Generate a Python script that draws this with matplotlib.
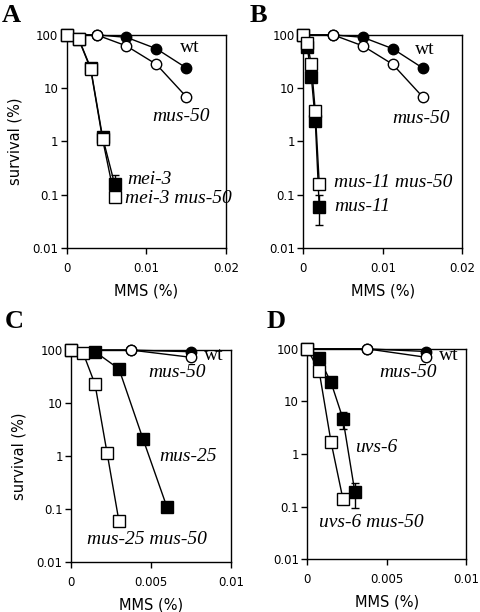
import numpy as np
import matplotlib
matplotlib.use('Agg')
import matplotlib.pyplot as plt

# DATOS ---------------------------------------------
# circulos: wt y mus-50
dosis_wt_ab = [0, 0.00375, 0.0075, 0.01125, 0.015]
wt_ab = [100, 100, 90, 55, 24]
mus50_ab = [100, 100, 62, 28, 6.9]
mus50_ab_err = [0, 0, 0, 0, 0.8]

dosis_wt_cd = [0, 0.00375, 0.0075]
wt_c = [100, 100, 93]
mus50_c = [100, 100, 73]
wt_d = [100, 100, 89]
mus50_d = [100, 100, 69]

# Panel A
dosis_a = [0, 0.0015, 0.003, 0.0045, 0.006]
mei3 = [100, 85, 24, 1.2, 0.16]
mei3_err_lo = [0, 0, 0, 0, 0.04]
mei3_err_hi = [0, 0, 0, 0, 0.07]
mei3_mus50 = [100, 83, 23, 1.1, 0.09]
mei3_mus50_err_lo = [0, 0, 0, 0.1, 0.015]
mei3_mus50_err_hi = [0, 0, 0, 0.1, 0.02]

# Panel B
dosis_b = [0, 0.0005, 0.001, 0.0015, 0.002]
mus11 = [100, 58, 16.5, 2.45, 0.058]
mus11_err_lo = [0, 0, 0, 0, 0.031]
mus11_err_hi = [0, 0, 0, 0, 0.042]
mus11_mus50 = [100, 70, 28, 3.7, 0.16]

# Panel C
dosis_c_mus25 = [0, 0.0015, 0.003, 0.0045, 0.006]
mus25 = [100, 93, 44, 2.1, 0.108]
dosis_c_doble = [0, 0.00075, 0.0015, 0.00225, 0.003]
mus25_mus50 = [100, 89, 22.6, 1.16, 0.058]

# Panel D
dosis_d_uvs6 = [0, 0.00075, 0.0015, 0.00225, 0.003]
uvs6 = [100, 66, 23, 4.7, 0.19]
uvs6_err_lo = [0, 0, 0, 1.7, 0.095]
uvs6_err_hi = [0, 0, 0, 1.6, 0.09]
dosis_d_doble = [0, 0.00075, 0.0015, 0.00225]
uvs6_mus50 = [100, 38, 1.7, 0.14]

yticks = [0.01, 0.1, 1, 10, 100]
ytick_labels = ['0.01', '0.1', '1', '10', '100']

# GRAFICA -------------------------------------------
figura = plt.figure(figsize=(4.8, 6.12), dpi=100)

posiciones = {'A': [0.139, 0.595, 0.332, 0.348],
              'B': [0.632, 0.595, 0.331, 0.348],
              'C': [0.148, 0.082, 0.333, 0.346],
              'D': [0.640, 0.086, 0.331, 0.344]}

def serie(ax, x, y, relleno, forma, ms, err=None, z=3):
    ax.plot(x, y, color='black', linewidth=1, zorder=z, clip_on=False)
    if err is not None:
        ax.errorbar(x, y, yerr=err, fmt='none', ecolor='black',
                    elinewidth=1, capsize=3, zorder=z, clip_on=False)
    ax.plot(x, y, linestyle='none', marker=forma, markersize=ms,
            markerfacecolor=relleno, markeredgecolor='black',
            markeredgewidth=1, zorder=z + 0.5, clip_on=False)

def ejes(ax, xmax, xticks, xlabels, ylabel):
    ax.set_yscale('log')
    ax.set_ylim(0.01, 100)
    ax.set_xlim(0, xmax)
    ax.set_yticks(yticks)
    ax.set_yticklabels(ytick_labels)
    ax.minorticks_off()
    ax.set_xticks(xticks)
    ax.set_xticklabels(xlabels)
    ax.tick_params(direction='out', length=4, width=1, labelsize=8.5, pad=2)
    ax.tick_params(axis='x', pad=6)
    for s in ax.spines.values():
        s.set_linewidth(1)
    ax.set_xlabel('MMS (%)', fontsize=10.5, labelpad=6)
    if ylabel:
        ax.set_ylabel('survival (%)', fontsize=10.5, labelpad=7)

def etiqueta(ax, x, y, texto, italica=True):
    ax.text(x, y, texto, transform=ax.transAxes, fontsize=14,
            family='Liberation Serif', style='italic' if italica else 'normal',
            ha='left', va='center', zorder=10)

# Panel A
ax = figura.add_axes(posiciones['A'])
serie(ax, dosis_wt_ab, wt_ab, 'black', 'o', 7.5)
serie(ax, dosis_wt_ab, mus50_ab, 'white', 'o', 7.5, err=mus50_ab_err)
serie(ax, dosis_a, mei3, 'black', 's', 8, err=[mei3_err_lo, mei3_err_hi], z=5)
serie(ax, dosis_a, mei3_mus50, 'white', 's', 8,
      err=[mei3_mus50_err_lo, mei3_mus50_err_hi], z=6)
ejes(ax, 0.02, [0, 0.01, 0.02], ['0', '0.01', '0.02'], True)
etiqueta(ax, 0.71, 0.939, 'wt', italica=False)
etiqueta(ax, 0.54, 0.615, 'mus-50')
etiqueta(ax, 0.378, 0.319, 'mei-3')
etiqueta(ax, 0.366, 0.23, 'mei-3 mus-50')

# Panel B
ax = figura.add_axes(posiciones['B'])
serie(ax, dosis_wt_ab, wt_ab, 'black', 'o', 7.5)
serie(ax, dosis_wt_ab, mus50_ab, 'white', 'o', 7.5, err=mus50_ab_err)
serie(ax, dosis_b, mus11, 'black', 's', 8, err=[mus11_err_lo, mus11_err_hi], z=5)
serie(ax, dosis_b, mus11_mus50, 'white', 's', 8, z=6)
ejes(ax, 0.02, [0, 0.01, 0.02], ['0', '0.01', '0.02'], False)
etiqueta(ax, 0.704, 0.93, 'wt', italica=False)
etiqueta(ax, 0.559, 0.606, 'mus-50')
etiqueta(ax, 0.193, 0.305, 'mus-11 mus-50')
etiqueta(ax, 0.193, 0.192, 'mus-11')

# Panel C
ax = figura.add_axes(posiciones['C'])
serie(ax, dosis_wt_cd, wt_c, 'black', 'o', 7.5)
serie(ax, dosis_wt_cd, mus50_c, 'white', 'o', 7.5)
serie(ax, dosis_c_mus25, mus25, 'black', 's', 8, z=5)
serie(ax, dosis_c_doble, mus25_mus50, 'white', 's', 8, z=6)
ejes(ax, 0.01, [0, 0.005, 0.01], ['0', '0.005', '0.01'], True)
etiqueta(ax, 0.83, 0.976, 'wt', italica=False)
etiqueta(ax, 0.481, 0.892, 'mus-50')
etiqueta(ax, 0.55, 0.495, 'mus-25')
etiqueta(ax, 0.10, 0.104, 'mus-25 mus-50')

# Panel D
ax = figura.add_axes(posiciones['D'])
serie(ax, dosis_wt_cd, wt_d, 'black', 'o', 7.5)
serie(ax, dosis_wt_cd, mus50_d, 'white', 'o', 7.5)
serie(ax, dosis_d_uvs6, uvs6, 'black', 's', 8, err=[uvs6_err_lo, uvs6_err_hi], z=5)
serie(ax, dosis_d_doble, uvs6_mus50, 'white', 's', 8, z=6)
ejes(ax, 0.01, [0, 0.005, 0.01], ['0', '0.005', '0.01'], False)
etiqueta(ax, 0.83, 0.967, 'wt', italica=False)
etiqueta(ax, 0.453, 0.886, 'mus-50')
etiqueta(ax, 0.302, 0.529, 'uvs-6')
etiqueta(ax, 0.075, 0.176, 'uvs-6 mus-50')

# letras de panel
for letra, (x, y) in {'A': (0.004, 0.975), 'B': (0.521, 0.975),
                      'C': (0.010, 0.474), 'D': (0.556, 0.474)}.items():
    figura.text(x, y, letra, fontsize=19, fontweight='bold',
                family='Liberation Serif', ha='left', va='center')

figura.savefig('out.png', dpi=100)
